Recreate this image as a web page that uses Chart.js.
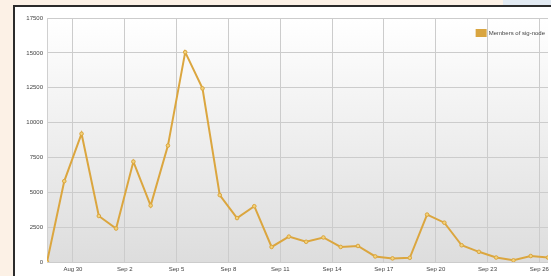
<!DOCTYPE html>
<html lang="en">
  <head>
    <meta charset="UTF-8" />
    <title>Members chart</title>
    <script src="https://cdn.jsdelivr.net/npm/chart.js"></script>
    <style>
      * {
        margin: 0;
        padding: 0;
        box-sizing: border-box;
      }

      body {
        background: #fcf1e6;
        width: 551px;
        height: 276px;
        overflow: hidden;
        position: relative;
        font-family: "Liberation Sans", sans-serif;
      }

      .corner {
        position: absolute;
        left: 503px;
        top: 0;
        width: 48px;
        height: 6px;
        background: #e2eaf2;
      }

      .frame {
        position: absolute;
        left: 13px;
        top: 5px;
        width: 540px;
        height: 275px;
        border-left: 2px solid #2b2b2b;
        border-top: 2px solid #2b2b2b;
        background: #ffffff;
      }

      #memberChart {
        display: block;
      }
    </style>
  </head>
  <body>
    <div class="corner"></div>
    <div class="frame">
      <canvas id="memberChart" width="538" height="269"></canvas>
    </div>
    <script>
      // one point per day (noon)
      const days = [
        "Aug 28", "Aug 29", "Aug 30", "Aug 31", "Sep 1", "Sep 2", "Sep 3",
        "Sep 4", "Sep 5", "Sep 6", "Sep 7", "Sep 8", "Sep 9", "Sep 10",
        "Sep 11", "Sep 12", "Sep 13", "Sep 14", "Sep 15", "Sep 16", "Sep 17",
        "Sep 18", "Sep 19", "Sep 20", "Sep 21", "Sep 22", "Sep 23", "Sep 24",
        "Sep 25", "Sep 26"
      ];
      const members = [
        0, 5800, 9200, 3300, 2400, 7200, 4050, 8350, 15050, 12450,
        4800, 3150, 4000, 1080, 1820, 1450, 1760, 1080, 1150, 400,
        260, 300, 3400, 2820, 1200, 730, 320, 120, 430, 320
      ];
      const xTickLabels = [
        "Aug 30", "Sep 2", "Sep 5", "Sep 8", "Sep 11",
        "Sep 14", "Sep 17", "Sep 20", "Sep 23", "Sep 26"
      ];
      const yTicks = [0, 2500, 5000, 7500, 10000, 12500, 15000, 17500];
      const seriesName = "Members of sig-node";

      // ticks sit at midnight, half a day before each noon point
      const xTickValues = xTickLabels.map((l) => days.indexOf(l) - 0.5);

      const tickFont = { family: "Liberation Sans", size: 6 };

      const plotBackground = {
        id: "plotBackground",
        beforeDraw(chart) {
          const { ctx, chartArea: a } = chart;
          const g = ctx.createLinearGradient(0, a.top, 0, a.bottom);
          g.addColorStop(0, "#ffffff");
          g.addColorStop(1, "#dddddd");
          ctx.save();
          ctx.fillStyle = g;
          ctx.fillRect(a.left, a.top, a.right - a.left, a.bottom - a.top);
          ctx.restore();
        },
      };

      const cornerLegend = {
        id: "cornerLegend",
        afterDraw(chart) {
          const { ctx, chartArea: a } = chart;
          const label = chart.data.datasets[0].label;
          ctx.save();
          ctx.font = "6px 'Liberation Sans'";
          const w = ctx.measureText(label).width;
          const right = a.right - 3;
          const y = a.top + 15;
          ctx.fillStyle = "#444";
          ctx.textBaseline = "middle";
          ctx.textAlign = "right";
          ctx.fillText(label, right, y);
          ctx.fillStyle = "#d9a540";
          ctx.fillRect(right - w - 13, y - 4, 11, 8);
          ctx.restore();
        },
      };

      const ctx = document.getElementById("memberChart").getContext("2d");
      new Chart(ctx, {
        type: "line",
        data: {
          datasets: [
            {
              label: seriesName,
              data: members.map((v, i) => ({ x: i, y: v })),
              borderColor: "#dba63f",
              borderWidth: 2,
              pointRadius: 1.8,
              pointBackgroundColor: "#f3d27a",
              pointBorderColor: "#dba63f",
              pointBorderWidth: 1,
              tension: 0,
              fill: false,
            },
          ],
        },
        options: {
          responsive: false,
          animation: false,
          layout: { padding: { top: 11, right: 4, left: 0, bottom: 0 } },
          plugins: {
            legend: { display: false },
            tooltip: { enabled: false },
          },
          scales: {
            x: {
              type: "linear",
              min: 0,
              max: days.length - 1,
              afterBuildTicks(scale) {
                scale.ticks = xTickValues.map((v) => ({ value: v }));
              },
              afterFit(scale) {
                scale.height = 14;
              },
              ticks: {
                autoSkip: false,
                maxRotation: 0,
                padding: 4,
                color: "#444",
                font: tickFont,
                callback: (v) => xTickLabels[xTickValues.indexOf(v)],
              },
              grid: { color: "#cccccc", drawTicks: false },
              border: { display: false },
            },
            y: {
              min: 0,
              max: yTicks[yTicks.length - 1],
              afterBuildTicks(scale) {
                scale.ticks = yTicks.map((v) => ({ value: v }));
              },
              afterFit(scale) {
                scale.width = 32;
              },
              ticks: {
                padding: 4,
                color: "#444",
                font: tickFont,
                callback: (v) => String(v),
              },
              grid: { color: "#cccccc", drawTicks: false },
              border: { display: true, color: "#d0d0d0" },
            },
          },
        },
        plugins: [plotBackground, cornerLegend],
      });
    </script>
  </body>
</html>
